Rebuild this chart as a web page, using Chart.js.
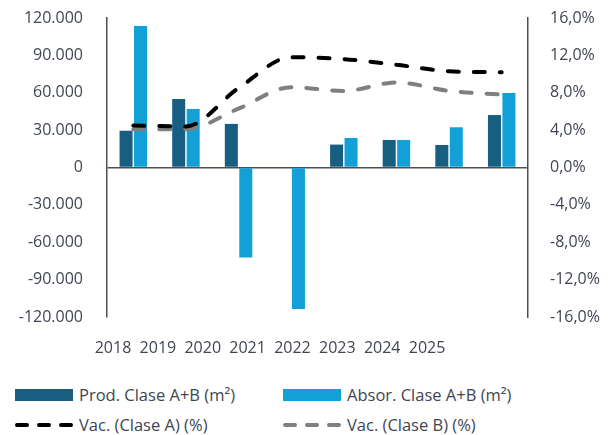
<!DOCTYPE html>
<html>
<head>
<meta charset="utf-8">
<script src="https://cdn.jsdelivr.net/npm/chart.js@4.4.1/dist/chart.umd.min.js"></script>
<style>
  body { margin: 0; background: #fff; font-family: "Open Sans", sans-serif; }
  #wrap { position: relative; width: 613px; height: 370px; }
  #legend { position: absolute; left: 0; top: 383px; width: 613px; }
  .item { position: absolute; display: flex; align-items: center; color: #404652; font-size: 16.5px; white-space: nowrap; }
  .item .sw { width: 58px; height: 12px; margin-right: 6px; }
</style>
</head>
<body>
<div id="wrap"><canvas id="chart"></canvas></div>
<div id="legend"></div>
<script>
// data
const years = ['2018', '2019', '2020', '2021', '2022', '2023', '2024', '2025'];
const yearValues = [2018, 2019, 2020, 2021, 2022, 2023, 2024, 2025];
const prodAB = [29500, 55000, 35000, 0, 18400, 22100, 18100, 42100];
const absorAB = [113600, 47000, -72300, -113600, 23700, 22100, 32300, 59700];
const vacA = [4.5, 4.4, 8.5, 11.8, 11.6, 11.0, 10.3, 10.2];
const vacB = [4.1, 4.1, 6.3, 8.6, 8.2, 9.1, 8.2, 7.8];

const axisColor = '#4a4f5a';
const textColor = '#404652';
const fontFamily = '"Open Sans", sans-serif';

function fmtThousands(v) {
    const s = Math.abs(v).toString().replace(/\B(?=(\d{3})+(?!\d))/g, '.');
    return (v < 0 ? '-' : '') + s;
}

// vertical axes: fixed width, and no extra top/bottom room for the labels
function fixVertical(width) {
    return (scale) => {
        scale.width = width;
        scale.paddingTop = 0;
        scale.paddingBottom = 0;
    };
}

const chart = new Chart(document.getElementById('chart'), {
    type: 'bar',
    data: {
        labels: years,
        datasets: [
            {
                label: 'Prod. Clase A+B (m²)',
                data: prodAB,
                backgroundColor: '#175e80',
                yAxisID: 'y',
                categoryPercentage: 0.55,
                barPercentage: 0.9,
                order: 2
            },
            {
                label: 'Absor. Clase A+B (m²)',
                data: absorAB,
                backgroundColor: '#12a0d7',
                yAxisID: 'y',
                categoryPercentage: 0.55,
                barPercentage: 0.9,
                order: 2
            },
            {
                type: 'line',
                label: 'Vac. (Clase A) (%)',
                data: vacA,
                borderColor: '#000000',
                borderWidth: 4,
                borderDash: [11, 15],
                borderCapStyle: 'round',
                cubicInterpolationMode: 'monotone',
                pointRadius: 0,
                yAxisID: 'y1',
                order: 1
            },
            {
                type: 'line',
                label: 'Vac. (Clase B) (%)',
                data: vacB,
                borderColor: '#7f7f7f',
                borderWidth: 4,
                borderDash: [11, 15],
                borderCapStyle: 'round',
                cubicInterpolationMode: 'monotone',
                pointRadius: 0,
                yAxisID: 'y1',
                order: 1
            }
        ]
    },
    options: {
        responsive: true,
        maintainAspectRatio: false,
        animation: false,
        layout: { padding: { top: 18, left: 0, right: 0, bottom: 0 } },
        plugins: { legend: { display: false }, tooltip: { enabled: false } },
        scales: {
            x: {
                type: 'category',
                display: false,
                offset: true
            },
            // separate axis only for the year labels, they sit narrower than the bars
            xl: {
                type: 'linear',
                position: 'bottom',
                min: 2017.866,
                max: 2027.25,
                bounds: 'data',
                offset: false,
                grid: { display: false, drawTicks: false, offset: false },
                border: { display: false },
                afterFit: (scale) => { scale.height = 53; },
                afterBuildTicks: (scale) => { scale.ticks = yearValues.map(v => ({ value: v })); },
                ticks: {
                    padding: 22,
                    color: textColor,
                    font: { family: fontFamily, size: 16 },
                    maxRotation: 0,
                    autoSkip: false,
                    callback: (v) => String(v)
                }
            },
            y: {
                position: 'left',
                min: -120000,
                max: 120000,
                afterFit: fixVertical(107),
                border: { display: true, color: axisColor, width: 1.5 },
                grid: {
                    drawTicks: false,
                    lineWidth: 1.5,
                    color: (ctx) => (ctx.tick && ctx.tick.value === 0 ? axisColor : 'rgba(0,0,0,0)')
                },
                ticks: {
                    stepSize: 30000,
                    padding: 24,
                    color: textColor,
                    font: { family: fontFamily, size: 16 },
                    callback: (v) => fmtThousands(v)
                }
            },
            y1: {
                position: 'right',
                min: -16,
                max: 16,
                afterFit: fixVertical(85),
                border: { display: true, color: axisColor, width: 1.5 },
                grid: { display: false, drawTicks: false },
                ticks: {
                    stepSize: 4,
                    padding: 22,
                    color: textColor,
                    font: { family: fontFamily, size: 16 },
                    callback: (v) => v.toFixed(1).replace('.', ',') + '%'
                }
            }
        }
    }
});

// html legend in two fixed columns like the original
const legendBox = document.getElementById('legend');
const legendPos = [[15, 0], [283, 0], [15, 30], [283, 30]];
chart.data.datasets.forEach((ds, i) => {
    const item = document.createElement('div');
    item.className = 'item';
    item.style.left = legendPos[i][0] + 'px';
    item.style.top = legendPos[i][1] + 'px';
    let swatch;
    if (ds.type === 'line') {
        swatch = '<svg width="58" height="12" style="margin-right:6px"><line x1="2" y1="6" x2="56" y2="6" stroke="' +
            ds.borderColor + '" stroke-width="4" stroke-linecap="round" stroke-dasharray="10 12"/></svg>';
    } else {
        swatch = '<div class="sw" style="background:' + ds.backgroundColor + '"></div>';
    }
    item.innerHTML = swatch + '<span>' + ds.label + '</span>';
    legendBox.appendChild(item);
});
</script>
</body>
</html>
